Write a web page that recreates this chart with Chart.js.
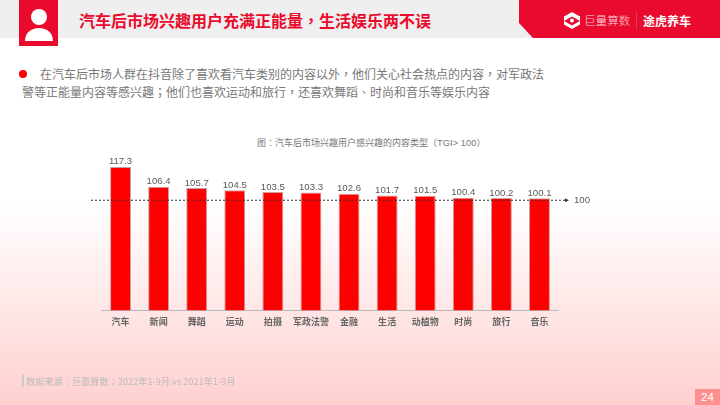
<!DOCTYPE html>
<html>
<head>
<meta charset="utf-8">
<title>汽车后市场兴趣用户</title>
<script src="https://cdn.jsdelivr.net/npm/chart.js@4"></script>
<style>
    html, body { margin: 0; padding: 0; }
    body {
        position: relative; width: 720px; height: 405px; overflow: hidden;
        font-family: "Noto Sans CJK SC", sans-serif;
        background: linear-gradient(to bottom, #ffffff 50%, #ffd0d0 100%);
    }
    .abs { position: absolute; white-space: nowrap; }
    .p { font-family: "Noto Sans CJK TC", sans-serif; }
    #band { left: 0; top: 0; width: 720px; height: 38px; background: #efefef; }
    #chart-wrap { position: absolute; left: 0; top: 0; width: 720px; height: 405px; }
    #head-title { left: 79px; top: 8px; font-size: 16px; line-height: 24px; font-weight: 700; color: #ea0a2e; }
    .body-line { font-size: 12px; line-height: 18px; color: #777; }
    #chart-title { left: 257px; top: 136px; font-size: 9px; line-height: 14px; color: #777; }
    #chart-title span.tgi { font-size: 9.4px; font-family: "Liberation Sans", sans-serif; }
    #source { left: 26px; top: 374px; font-size: 9.2px; line-height: 14px; color: #bbb; }
    #source-bar { left: 22px; top: 374px; width: 2px; height: 13px; background: #ccc; }
    #page-no { left: 695px; top: 389px; width: 25px; height: 16px; line-height: 16px; text-align: center; font-size: 11.5px; color: #fff; background: #ff9090; font-family: "Liberation Sans", sans-serif; }
</style>
</head>
<body>
<div class="abs" id="band"></div>
<svg class="abs" style="left:0;top:0" width="720" height="50">
    <rect x="19" y="0" width="39" height="46" fill="#ea0a2e"/>
    <circle cx="39" cy="17" r="8" fill="#fff"/>
    <path d="M25 41 C25 33 31 28 39 28 C47 28 53 33 53 41 Z" fill="#fff"/>
    <polygon points="519,0 720,0 720,38 533,38 519,23" fill="#ea0a2e"/>
    <path d="M572 12 L580 16.5 L580 21 L572 16.5 L564 21 L564 16.5 Z" fill="#fff"/>
    <path d="M572 29 L564 24.5 L564 21 L572 25.5 L580 21 L580 24.5 Z" fill="#fff"/>
    <circle cx="572" cy="20.5" r="2" fill="#fff"/>
    <rect x="636" y="12" width="1" height="17" fill="#c9475c"/>
</svg>
<div class="abs" style="left:584px;top:12px;font-size:11.6px;line-height:17px;font-weight:300;color:#f8d0d6">巨量算数</div>
<div class="abs" style="left:643px;top:12px;font-size:12px;line-height:17px;font-weight:700;color:#fff">途虎养车</div>
<div class="abs" id="head-title">汽车后市场兴趣用户充满正能量<span class="p" lang="zh-TW">，</span>生活娱乐两不误</div>
<svg class="abs" style="left:18px;top:69px" width="10" height="10"><circle cx="5" cy="5" r="4" fill="#f00"/></svg>
<div class="abs body-line" style="left:40px;top:65px">在汽车后市场人群在抖音除了喜欢看汽车类别的内容以外<span class="p" lang="zh-TW">，</span>他们关心社会热点的内容<span class="p" lang="zh-TW">，</span>对军政法</div>
<div class="abs body-line" style="left:22px;top:83px">警等正能量内容等感兴趣<span class="p" lang="zh-TW">；</span>他们也喜欢运动和旅行<span class="p" lang="zh-TW">，</span>还喜欢舞蹈<span class="p" lang="zh-TW">、</span>时尚和音乐等娱乐内容</div>
<div class="abs" id="chart-title">图<span class="p" lang="zh-TW">：</span>汽车后市场兴趣用户感兴趣的内容类型（<span class="tgi">TGI&gt; 100</span>）</div>
<div id="chart-wrap"><canvas id="tgi-chart" width="720" height="405"></canvas></div>
<div class="abs" id="source-bar"></div>
<div class="abs" id="source">数据来源<span class="p" lang="zh-TW">：</span>巨量算数<span class="p" lang="zh-TW">；</span>2022年1-9月 vs 2021年1-9月</div>
<div class="abs" id="page-no">24</div>
<script>
const categories = ['汽车', '新闻', '舞蹈', '运动', '拍摄', '军政法警', '金融', '生活', '动植物', '时尚', '旅行', '音乐'];
const tgiValues = [117.3, 106.4, 105.7, 104.5, 103.5, 103.3, 102.6, 101.7, 101.5, 100.4, 100.2, 100.1];
const referenceValue = 100;

// 柱頂數值與 100 參考虛線
const overlayPlugin = {
    id: 'overlay',
    afterDatasetsDraw(chart) {
        const { ctx, scales: { y } } = chart;
        const meta = chart.getDatasetMeta(0);

        ctx.save();
        ctx.fillStyle = '#5a5a5a';
        ctx.font = '9.6px "Liberation Sans", Arial, sans-serif';
        ctx.textAlign = 'center';
        ctx.textBaseline = 'alphabetic';
        meta.data.forEach((bar, i) => {
            ctx.fillText(tgiValues[i].toFixed(1), bar.x, bar.y - 2.5);
        });

        // 原圖虛線比實際 100 的位置略低
        const lineY = y.getPixelForValue(referenceValue) + 1.8;
        ctx.strokeStyle = '#333';
        ctx.lineWidth = 1.1;
        ctx.setLineDash([2, 2]);
        ctx.beginPath();
        ctx.moveTo(91, lineY);
        ctx.lineTo(565, lineY);
        ctx.stroke();
        ctx.setLineDash([]);

        ctx.fillStyle = '#333';
        ctx.beginPath();
        ctx.moveTo(569, lineY);
        ctx.lineTo(565, lineY - 2);
        ctx.lineTo(565, lineY + 2);
        ctx.closePath();
        ctx.fill();

        ctx.fillStyle = '#5a5a5a';
        ctx.textAlign = 'left';
        ctx.textBaseline = 'middle';
        ctx.fillText(String(referenceValue), 574, lineY + 0.5);
        ctx.restore();
    }
};

new Chart(document.getElementById('tgi-chart'), {
    type: 'bar',
    data: {
        labels: categories,
        datasets: [{
            data: tgiValues,
            backgroundColor: '#ff0000',
            borderColor: '#c9a0a0',
            borderWidth: 1,
            barPercentage: 0.55,
            categoryPercentage: 1
        }]
    },
    options: {
        responsive: false,
        animation: false,
        layout: { padding: { left: 101.5, right: 161.5, top: 150, bottom: 72 } },
        plugins: { legend: { display: false }, tooltip: { enabled: false } },
        scales: {
            y: { display: false, min: 38.7, max: 126.6 },
            x: {
                grid: { display: false, drawTicks: false },
                border: { color: '#bbb', width: 1 },
                ticks: {
                    color: '#666',
                    font: { family: '"Noto Sans CJK SC", sans-serif', size: 9, weight: '700' },
                    padding: 6,
                    maxRotation: 0,
                    autoSkip: false
                }
            }
        }
    },
    plugins: [overlayPlugin]
});
</script>
</body>
</html>
